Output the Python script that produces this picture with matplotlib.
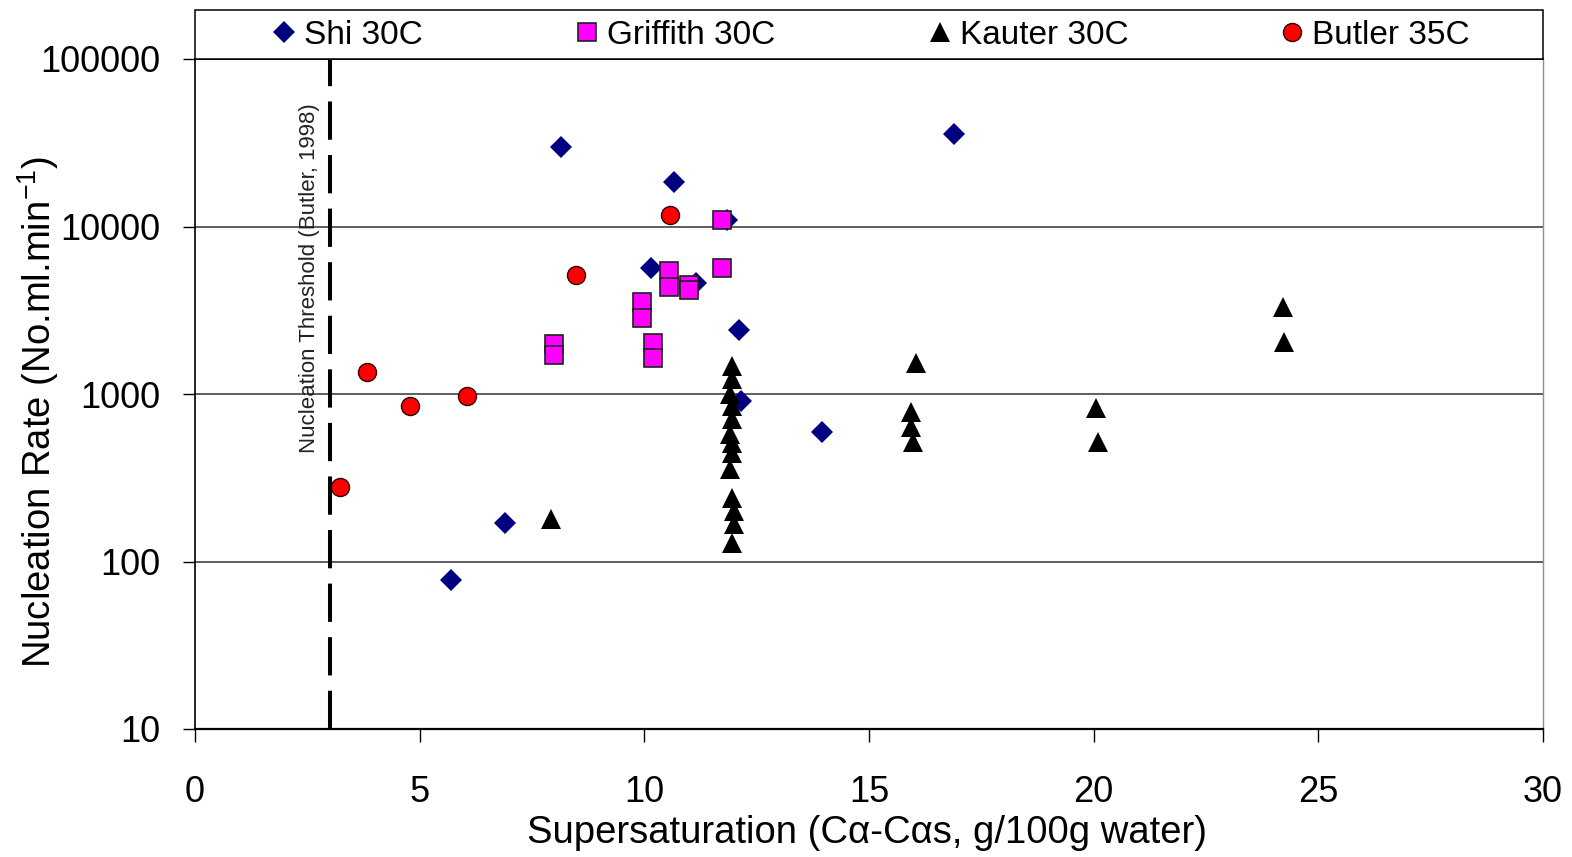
import matplotlib
matplotlib.use("Agg")
import matplotlib.pyplot as plt
from matplotlib.patches import Rectangle
from matplotlib.ticker import FixedLocator, FixedFormatter, NullLocator

plt.rcParams['font.family'] = ['Liberation Sans', 'DejaVu Sans']
plt.rcParams['mathtext.fontset'] = 'custom'
plt.rcParams['mathtext.rm'] = 'Liberation Sans'
plt.rcParams['mathtext.it'] = 'Liberation Sans:italic'

# ---- data: supersaturation (g/100g water) vs nucleation rate ----
shi_x = [5.7, 6.9, 8.15, 10.15, 10.65, 11.15, 11.83, 12.1, 12.15, 13.95, 16.9]
shi_y = [78, 170, 30000, 5650, 18400, 4600, 10900, 2400, 910, 590, 35500]

griffith_x = [7.98, 7.98, 9.94, 9.94, 10.19, 10.19, 10.55, 10.55, 11.0, 11.0, 11.72, 11.72]
griffith_y = [2000, 1700, 3560, 2830, 2010, 1640, 5450, 4370, 4475, 4180, 10900, 5650]

kauter_x = [7.92, 11.95, 11.95, 11.9, 11.95, 11.95, 11.9, 11.95, 11.95, 11.9,
            11.95, 12.0, 12.0, 11.95, 16.04, 15.93, 15.93, 15.97, 20.05, 20.09,
            24.22, 24.24]
kauter_y = [179, 1470, 1230, 1000, 848, 709, 577, 510, 444, 357,
            239, 200, 167, 129, 1525, 784, 638, 519, 822, 519,
            3320, 2052]

butler_x = [3.23, 3.83, 4.79, 6.05, 8.48, 10.57]
butler_y = [278, 1350, 848, 973, 5130, 11700]

threshold_x = 3.0

x_ticks = [0, 5, 10, 15, 20, 25, 30]
y_ticks = [10, 100, 1000, 10000, 100000]
y_tick_labels = ["10", "100", "1000", "10000", "100000"]

# ---- figure ----
fig = plt.figure(figsize=(15.72, 8.57), dpi=100)
ax = fig.add_axes([195 / 1572, 128 / 857, 1348 / 1572, 670 / 857])

ax.plot(shi_x, shi_y, linestyle="none", marker="D", markersize=11,
        color="#000080", markeredgewidth=0, label="Shi 30C", zorder=3)
ax.plot(griffith_x, griffith_y, linestyle="none", marker="s", markersize=12.5,
        markerfacecolor="#FF00FF", markeredgecolor="#202020", markeredgewidth=1.2,
        label="Griffith 30C", zorder=4)
ax.plot(kauter_x, kauter_y, linestyle="none", marker="^", markersize=14,
        color="black", markeredgewidth=0, label="Kauter 30C", zorder=5)
ax.plot(butler_x, butler_y, linestyle="none", marker="o", markersize=13,
        markerfacecolor="#FF0000", markeredgecolor="#300000", markeredgewidth=1.0,
        label="Butler 35C", zorder=6)

# threshold line
ax.axvline(threshold_x, color="black", linewidth=2.9, dashes=(9.5, 3.8), zorder=2)
ax.text(threshold_x - 0.45, 4.9e3, "Nucleation Threshold (Butler, 1998)",
        rotation=90, ha="center", va="center", fontsize=16, color="#222222")

ax.set_xlim(0, 30)
ax.set_yscale("log")
ax.set_ylim(10, 100000)
ax.xaxis.set_major_locator(FixedLocator(x_ticks))
ax.yaxis.set_major_locator(FixedLocator(y_ticks))
ax.yaxis.set_major_formatter(FixedFormatter(y_tick_labels))
ax.yaxis.set_minor_locator(NullLocator())

ax.tick_params(axis="x", direction="out", length=9, width=1, pad=24, labelsize=26)
ax.tick_params(axis="y", direction="out", length=9, width=1, pad=16, labelsize=26)

ax.grid(axis="y", color="#333333", linewidth=1.1)
ax.set_axisbelow(True)

for side in ["left", "bottom", "top"]:
    ax.spines[side].set_color("black")
ax.spines["left"].set_linewidth(1.2)
ax.spines["bottom"].set_linewidth(1.6)
ax.spines["top"].set_linewidth(1.1)
ax.spines["right"].set_color("#909090")
ax.spines["right"].set_linewidth(1.0)

# axis titles
fig.text(38 / 1572, 1 - 412 / 857, "Nucleation Rate (No.ml.min$^{-1}$)",
         rotation=90, ha="center", va="center", fontsize=27.5)
fig.text(867 / 1572, 1 - 833 / 857, "Supersaturation (C\u03b1-C\u03b1s, g/100g water)",
         ha="center", va="center", fontsize=27.5)

# legend strip above the plot
fig.patches.append(Rectangle((195 / 1572, 1 - 59 / 857), 1348 / 1572, 49 / 857,
                             transform=fig.transFigure, facecolor="white",
                             edgecolor="black", linewidth=1.1, zorder=0))
handles, labels = ax.get_legend_handles_labels()
fig.legend(handles, labels, loc="center", ncol=4, mode="expand",
           bbox_to_anchor=(274 / 1572, 1 - 35 / 857, (1470 - 274) / 1572, 0),
           borderaxespad=0, borderpad=0, frameon=False, fontsize=24,
           handlelength=0.6, handletextpad=0.3, markerscale=1.0)

fig.savefig("out.png", dpi=100)
